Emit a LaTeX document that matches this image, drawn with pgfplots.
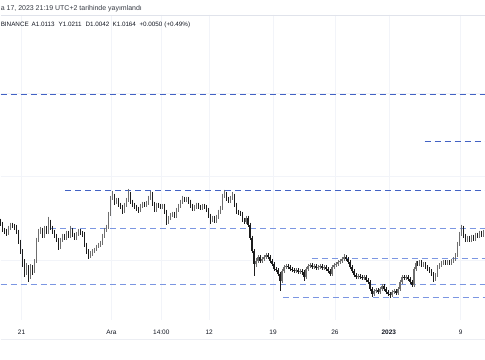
\documentclass[border=0pt]{standalone}
\usepackage{pgfplots}
\pgfplotsset{compat=1.18}
\usepackage{pgfplotstable}
\usepackage{fontspec}
\setmainfont{Liberation Sans}
\definecolor{tvtext}{HTML}{131722}
\definecolor{gridc}{HTML}{F2F4F9}
\definecolor{sepc}{HTML}{E0E3EB}
\definecolor{lvlA}{HTML}{4262C4}
\definecolor{lvlB}{HTML}{7B96E2}
\definecolor{cup}{HTML}{6E6E6E}
\definecolor{cdn}{HTML}{1C1C1C}

% x = pixel column, o/c = open/close, t/b = wick top/bottom (pixel rows, y down)
\pgfplotstableread{
x o c t b
0 221 224 219 226
2 224 230 222 232
4 230 231 228 234
6 231 233 229 236
8 233 228 226 235
10 228 225 223 230
12 225 226 223 228
14 226 227 224 230
16 227 232 225 234
18 232 242 230 244
20 242 252 240 255
22 252 262 250 268
24 262 272 260 278
26 272 268 264 276
28 268 276 266 283
30 276 268 265 280
32 268 272 266 276
34 272 262 260 274
36 262 240 238 264
38 240 232 229 242
40 232 230 227 234
42 230 236 228 238
44 236 228 226 238
46 228 232 226 234
48 232 222 217 234
50 222 228 220 230
52 228 232 226 234
54 232 236 230 238
56 236 240 234 242
58 240 248 238 251
60 248 240 238 250
62 240 236 234 242
64 236 238 234 240
66 238 233 231 240
68 233 236 231 238
70 236 230 226 238
72 230 235 228 237
74 235 238 233 240
76 238 234 232 240
78 234 231 229 236
80 231 233 229 235
82 233 234 231 237
84 234 245 232 247
86 245 252 243 255
88 252 257 250 260
90 257 255 252 259
92 255 252 250 257
94 252 250 248 254
96 250 247 245 252
98 247 245 243 249
100 245 243 241 247
102 243 236 234 245
104 236 230 228 238
106 230 227 225 232
108 227 214 212 229
110 214 198 196 216
112 198 196 191 200
114 196 202 194 205
116 202 200 198 204
118 200 205 198 207
120 205 207 203 209
122 207 211 205 214
124 211 205 203 213
126 205 200 198 207
128 200 194 189 202
130 194 202 192 204
132 202 205 200 207
134 205 207 203 209
136 207 209 205 211
138 209 210 207 213
140 210 206 204 212
142 206 204 202 208
144 204 205 202 207
146 205 203 201 207
148 203 198 196 205
150 198 194 191 200
152 194 204 192 206
154 204 210 202 212
156 210 205 203 212
158 205 206 203 208
160 206 207 204 209
162 207 206 204 209
164 206 212 204 214
166 212 222 210 225
168 222 218 216 224
170 218 215 213 220
172 215 214 212 217
174 214 216 212 218
176 216 210 208 218
178 210 206 204 212
180 206 202 200 208
182 202 199 196 204
184 199 200 197 202
186 200 199 197 202
188 199 202 197 204
190 202 206 200 208
192 206 209 204 211
194 209 207 205 211
196 207 205 203 209
198 205 207 203 209
200 207 208 205 210
202 208 206 204 210
204 206 207 204 209
206 207 210 205 212
208 210 216 208 218
210 216 220 214 224
212 220 218 216 222
214 218 221 216 223
216 221 217 215 223
218 217 212 210 219
220 212 208 206 214
222 208 196 194 210
224 196 194 190 198
226 194 199 192 201
228 199 201 197 203
230 201 198 196 203
232 198 196 192 200
234 196 205 194 207
236 205 212 203 214
238 212 213 210 215
240 213 214 211 216
242 214 220 212 222
244 220 222 218 224
246 222 218 216 224
248 218 225 216 227
250 225 238 223 240
252 238 252 236 254
254 252 265 250 277
256 265 262 259 268
258 262 258 256 264
260 258 262 256 264
262 262 260 258 264
264 260 258 256 262
266 258 256 254 260
268 256 258 254 260
270 258 262 256 264
272 262 265 260 267
274 265 270 263 272
276 270 271 268 273
278 271 275 269 277
280 275 282 273 292
282 282 272 270 284
284 272 268 266 274
286 268 267 265 270
288 267 268 265 270
290 268 270 266 272
292 270 271 268 273
294 271 272 269 274
296 272 271 269 274
298 271 273 269 275
300 273 272 270 275
302 272 273 270 276
304 273 278 271 282
306 278 270 268 280
308 270 267 265 272
310 267 266 264 269
312 266 268 264 270
314 268 267 265 270
316 267 269 265 271
318 269 268 266 271
320 268 267 265 270
322 267 269 265 271
324 269 268 266 271
326 268 270 266 272
328 270 272 268 274
330 272 275 270 277
332 275 268 266 277
334 268 266 264 270
336 266 265 263 268
338 265 263 261 267
340 263 262 260 265
342 262 260 258 264
344 260 258 255 262
346 258 260 256 262
348 260 263 258 265
350 263 268 261 270
352 268 272 266 274
354 272 276 270 278
356 276 278 274 280
358 278 277 275 280
360 277 278 275 280
362 278 279 276 281
364 279 278 276 281
366 278 281 276 283
368 281 283 279 285
370 283 290 281 292
372 290 295 288 298
374 295 292 290 297
376 292 291 289 294
378 291 293 289 295
380 293 290 288 295
382 290 287 285 292
384 287 290 285 292
386 290 293 288 295
388 293 295 291 297
390 295 296 293 299
392 296 293 291 298
394 293 292 290 295
396 292 294 290 296
398 294 290 288 296
400 290 283 281 292
402 283 278 276 285
404 278 279 276 281
406 279 278 276 281
408 278 280 276 282
410 280 283 278 285
412 283 286 281 288
414 286 270 268 288
416 270 264 262 272
418 264 265 262 267
420 265 263 261 267
422 263 266 261 268
424 266 265 263 268
426 265 268 263 270
428 268 270 266 272
430 270 272 268 274
432 272 275 270 277
434 275 280 273 283
436 280 276 274 282
438 276 268 266 278
440 268 266 264 270
442 266 264 262 268
444 264 263 261 266
446 263 264 261 266
448 264 263 261 266
450 263 264 261 266
452 264 262 260 266
454 262 260 258 264
456 260 256 254 262
458 256 244 242 258
460 244 234 232 246
462 234 228 225 236
464 228 236 226 238
466 236 240 234 242
468 240 238 236 242
470 238 240 236 242
472 240 237 235 242
474 237 239 235 241
476 239 235 233 241
478 235 236 233 238
480 236 233 231 238
482 233 235 231 237
484 235 232 230 237
}\candles

\begin{document}
\begin{tikzpicture}
\begin{axis}[
  scale only axis, width=485pt, height=360pt,
  xmin=0, xmax=485, ymin=0, ymax=360, y dir=reverse,
  axis lines=none, xtick=\empty, ytick=\empty,
  axis background/.style={fill=white},
  clip=false,
]
% frame of the picture
\addplot[draw=none] coordinates {(0,0) (485,360)};
% grid
\addplot[gridc, line width=0.6pt] coordinates {(0,93) (485,93)};
\addplot[gridc, line width=0.6pt] coordinates {(0,177) (485,177)};
\addplot[gridc, line width=0.6pt] coordinates {(0,261) (485,261)};
\foreach \gx in {21,111,161,209,273,335,389,461}{
  \edef\tmp{\noexpand\addplot[gridc, line width=0.6pt] coordinates {(\gx,15) (\gx,321)};}
  \tmp
}
\addplot[sepc, line width=0.7pt] coordinates {(0,15) (485,15)};
\addplot[sepc!60, line width=0.6pt] coordinates {(0,340) (485,340)};
% levels
\addplot[lvlA, line width=0.8pt, dash pattern=on 6pt off 4pt] coordinates {(0,95) (485,95)};
\addplot[lvlA, line width=0.8pt, dash pattern=on 6pt off 4pt] coordinates {(425,142) (485,142)};
\addplot[lvlA, line width=0.8pt, dash pattern=on 6pt off 4pt] coordinates {(65,191) (485,191)};
\addplot[lvlB, line width=0.8pt, dash pattern=on 6pt off 4pt] coordinates {(50,229) (485,229)};
\addplot[lvlB, line width=0.8pt, dash pattern=on 6pt off 4pt] coordinates {(312,259) (485,259)};
\addplot[lvlB, line width=0.8pt, dash pattern=on 6pt off 4pt] coordinates {(0,285) (485,285)};
\addplot[lvlB, line width=0.8pt, dash pattern=on 6pt off 4pt] coordinates {(283,298) (485,298)};
% wicks
\addplot[cup, line width=0.5pt, line cap=butt, quiver={u=0, v={(\thisrow{c}<\thisrow{o})*(\thisrow{b}-\thisrow{t})}}] table[x=x, y=t] {\candles};
\addplot[cdn, line width=0.5pt, line cap=butt, quiver={u=0, v={(\thisrow{c}>\thisrow{o})*(\thisrow{b}-\thisrow{t})}}] table[x=x, y=t] {\candles};
% bodies
\addplot[cup, line width=1.2pt, line cap=butt, quiver={u=0, v={(\thisrow{c}<\thisrow{o})*(\thisrow{c}-\thisrow{o})}}] table[x=x, y=o] {\candles};
\addplot[cdn, line width=1.2pt, line cap=butt, quiver={u=0, v={(\thisrow{c}>\thisrow{o})*(\thisrow{c}-\thisrow{o})}}] table[x=x, y=o] {\candles};
% header
\node[anchor=base west, inner sep=0, text=tvtext!85, font=\fontsize{7}{8}\selectfont] at (axis cs:0,11) {a 17, 2023 21:19 UTC+2 tarihinde yayımlandı};
\begin{scope}[every node/.style={anchor=base west, inner sep=0, text=tvtext, font=\fontsize{6.3}{7}\selectfont}]
\node at (axis cs:0,27) {BINANCE};
\node at (axis cs:31,27) {A1.0113};
\node at (axis cs:58,27) {Y1.0211};
\node at (axis cs:85,27) {D1.0042};
\node at (axis cs:112,27) {K1.0164};
\node at (axis cs:139,27) {+0.0050};
\node at (axis cs:164,27) {(+0.49\%)};
\end{scope}
% time axis labels
\begin{scope}[every node/.style={anchor=base, inner sep=0, text=tvtext, font=\fontsize{6.5}{7}\selectfont}]
\node at (axis cs:21,335) {21};
\node at (axis cs:111,335) {Ara};
\node at (axis cs:161,335) {14:00};
\node at (axis cs:209,335) {12};
\node at (axis cs:273,335) {19};
\node at (axis cs:335,335) {26};
\node at (axis cs:389,335) {\bfseries 2023};
\node at (axis cs:461,335) {9};
\end{scope}
\end{axis}
\end{tikzpicture}
\end{document}
